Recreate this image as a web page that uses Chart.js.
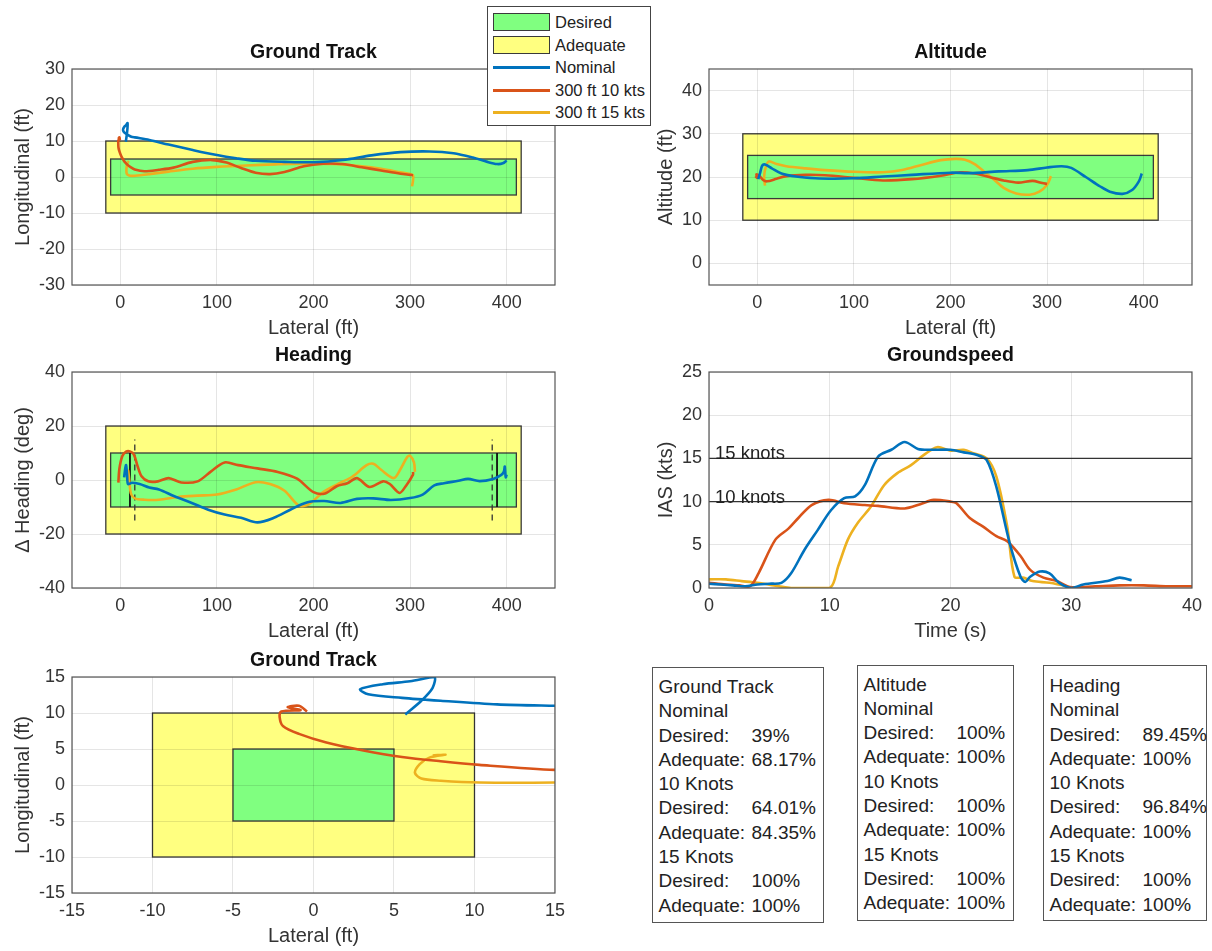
<!DOCTYPE html>
<html>
<head>
<meta charset="utf-8">
<script src="https://cdn.jsdelivr.net/npm/chart.js@4.4.1/dist/chart.umd.min.js"></script>
<style>
  body { margin: 0; background: #fff; width: 1212px; height: 951px; position: relative; overflow: hidden;
         font-family: "Liberation Sans", Arial, Helvetica, sans-serif; color: #222; }
  canvas { position: absolute; }
  .stat { position: absolute; border: 1.5px solid #555; background: #fff; box-sizing: border-box;
          font-size: 19px; padding-left: 5.5px; }
  .stat div { height: 24.3px; line-height: 24.3px; white-space: nowrap; }
  .stat span { display: inline-block; width: 93px; }
  #legend { position: absolute; left: 487px; top: 6px; width: 164px; height: 120px; border: 1px solid #444;
            background: #fff; box-sizing: border-box; font-size: 16.5px; z-index: 5; }
  #legend .sw { position: absolute; left: 5px; width: 57px; box-sizing: border-box; }
  #legend .txt { position: absolute; left: 67px; white-space: nowrap; }
</style>
</head>
<body>
<canvas id="track" width="565" height="303" style="left:0;top:39px"></canvas>
<canvas id="alt" width="565" height="303" style="left:637px;top:39px"></canvas>
<canvas id="head" width="565" height="303" style="left:0;top:342px"></canvas>
<canvas id="speed" width="572" height="303" style="left:637px;top:342px"></canvas>
<canvas id="zoom" width="572" height="303" style="left:0;top:647px"></canvas>
<div id="legend"></div>
<div class="stat" id="statTrack" style="left:652px;top:667px;width:172px;height:256px;padding-top:7px"></div>
<div class="stat" id="statAlt" style="left:857px;top:665px;width:157px;height:256px;padding-top:6.5px"></div>
<div class="stat" id="statHead" style="left:1043px;top:665px;width:164px;height:256px;padding-top:8px"></div>
<script>
// ---- data ----
const lateralTicks = [0, 100, 200, 300, 400];
const trackTicks = [-30, -20, -10, 0, 10, 20, 30];
const altTicks = [0, 10, 20, 30, 40];
const headTicks = [-40, -20, 0, 20, 40];
const timeTicks = [0, 10, 20, 30, 40];
const iasTicks = [0, 5, 10, 15, 20, 25];
const zoomTicks = [-15, -10, -5, 0, 5, 10, 15];

// tolerance boxes [xmin, xmax, ymin, ymax]
const trackAdequate = [-15, 415, -10, 10];
const trackDesired = [-10, 410, -5, 5];
const altAdequate = [-15, 415, 10, 30];
const altDesired = [-10, 410, 15, 25];
const headAdequate = [-15, 415, -20, 20];
const headDesired = [-10, 410, -10, 10];
const zoomAdequate = [-10, 10, -10, 10];
const zoomDesired = [-5, 5, -5, 5];

// ground track (lateral ft, longitudinal ft)
const trackNominal = [[5.7,9.8],[6.7,11.7],[7.4,13.5],[7.5,15],[6,14.4],[4.3,14],[2.9,13.3],[3.4,12.6],[5.5,12.1],[7.9,11.7],[11.4,11.2],[15,11],
  [30,10.3],[50,9],[75,7.5],[100,6.1],[120,5.2],[140,4.5],[170,4.2],[200,4.1],[230,4.7],[260,6],[290,6.9],[320,7.1],[345,6.6],
  [365,5.4],[380,4.2],[390,3.6],[396,3.8],[400,4.6]];
const trackTen = [[-0.4,10.2],[-0.9,11],[-1.6,10.8],[-0.8,10.4],[-2,10.2],[-2.1,9.4],[-1.9,8.2],[-0.9,7.1],[0.8,5.9],[3.1,4.8],[5.5,3.9],
  [7.9,3.3],[10.3,2.8],[15,2.1],[25,1.6],[40,2],[55,2.6],[75,4.2],[95,4.7],[110,4],[125,2.5],[140,1.2],[155,0.8],[170,1.4],
  [190,3],[210,3.7],[230,3.6],[250,2.7],[270,1.8],[290,0.9],[300,0.6],[303,0.5]];
const trackFifteen = [[7.4,4.1],[8.2,4.2],[7.2,3.8],[6.6,2.9],[6.3,1.7],[6.7,0.9],[7.9,0.6],[10.3,0.35],[15,0.35],[30,0.8],[50,1.5],
  [75,2.3],[100,2.8],[130,3.2],[160,3.5],[190,3.7],[220,3.6],[250,3],[270,2.3],[290,1.3],[300,0.8],[303,0.5],[303,-1],[302,-2.6]];

// altitude (lateral ft, altitude ft)
const altNominal = [[1,19.5],[3,21],[5,22.6],[8,22.9],[15,22],[25,20.8],[40,20.1],[60,19.7],[80,19.6],[100,19.7],[130,20.1],[160,20.5],
  [200,21],[220,20.9],[250,21.3],[280,21.6],[300,22.2],[315,22.5],[325,22.1],[340,20],[355,17.8],[365,16.6],[378,16.1],[388,17],
  [395,19],[398,20.8]];
const altTen = [[-2,20.2],[0,19.8],[-1,20.6],[2,20.3],[6,19.3],[10,19],[20,19.6],[30,20.2],[50,20.5],[70,20.4],[100,19.8],[130,19.2],
  [160,19.5],[190,20.3],[210,21.1],[225,20.8],[240,20],[255,19.2],[270,18.7],[285,19.1],[295,18.6],[300,18.4]];
const altFifteen = [[8,18],[7,20],[9,22.5],[12,23.6],[20,23],[30,22.5],[50,22],[70,21.6],[100,21.2],[130,21.1],[150,21.6],[170,22.8],
  [190,23.9],[205,24.2],[215,24],[225,23],[235,21.2],[245,19.4],[255,17.5],[268,16.2],[282,15.9],[292,16.6],[300,18.2],[304,20.2]];

// heading (lateral ft, delta heading deg)
const headNominal = [[4,1],[5,4],[6,5.5],[7,2],[8,-1.5],[12,-1],[20,-1.5],[30,-2.8],[40,-3.5],[56,-6],[74,-8.5],[91,-11],[108,-12.8],
  [125,-14],[142,-15.7],[159,-14],[176,-11],[193,-8.3],[211,-7.8],[228,-8.5],[245,-7],[262,-6.8],[280,-7.4],[300,-6.7],[313,-5.4],
  [325,-2],[335,-1.2],[350,-0.3],[360,0.4],[372,-0.4],[386,0.4],[394,1.8],[397,3],[398,5],[399,1],[400,2]];
const headTen = [[-2,-1],[-1,4],[2,8.8],[6,10.5],[10,10.6],[14,9.5],[18,5],[22,1.4],[29,-0.5],[39,-0.5],[50,0.7],[63,-0.9],[80,-0.5],
  [94,3.2],[108,6.5],[122,5.5],[142,4.3],[163,3],[183,0.5],[200,-4.5],[212,-5],[224,-2.3],[235,-1.2],[245,0.7],[258,-2.6],
  [272,-0.5],[279,-1.5],[289,-4.8],[296,-2],[303,2],[303,3]];
const headFifteen = [[7,0],[8,3.5],[9,1],[11,-5],[15,-6.8],[25,-7.3],[40,-7.3],[60,-6.3],[80,-5.8],[100,-5.4],[120,-3.5],[140,-0.8],
  [155,-1.5],[170,-4],[185,-9.5],[195,-9],[210,-4.5],[225,-1.5],[240,1.2],[255,5.5],[262,6],[270,3.8],[283,0.7],[290,4],[297,8.5],
  [300,9],[304,6.5],[305,3]];
const headSolidX = [10, 390];
const headSolidSpan = [-10, 10];
const headDashX = [15, 385];
const headDashSpan = [-15, 15];

// groundspeed (time s, IAS kts)
const speedNominal = [[0,0.5],[1,0.4],[2,0.3],[3,0.2],[4,0.4],[5,0.5],[6,0.6],[6.8,1.7],[7.9,4.4],[9,6.7],[10.1,9],[11.2,10.4],
  [12.1,10.6],[12.9,11.9],[14,15.2],[15.1,16],[16.2,16.9],[17.3,16.1],[18.4,16],[20,16],[21.1,15.7],[22.2,15.4],[23,14.8],
  [23.8,11.7],[24.9,5.2],[25.8,1.3],[26.2,0.7],[26.6,1.3],[27.4,1.9],[28.2,1.7],[29,0.6],[30,0],[31,0.4],[33,0.8],[34,1.2],[35,0.9]];
const speedTen = [[0,0.6],[1.4,0.4],[2.5,0.3],[3.4,0.2],[4.1,1.7],[5.5,5.6],[6.6,6.9],[7.4,8.1],[8.5,9.6],[9.9,10.2],[11.2,9.8],
  [12.9,9.6],[14,9.5],[16.2,9.2],[17.5,9.7],[18.6,10.2],[20,10],[20.5,9.8],[21.6,8.1],[22.7,7.1],[23.8,6],[24.7,5.4],[25.8,3.7],
  [26.6,2.1],[27.7,1.2],[28.8,0.8],[29.9,0.1],[32,0.2],[34,0.3],[36,0.3],[38,0.2],[40,0.2]];
const speedFifteen = [[0,1],[1.4,1],[2.7,0.8],[4,0.6],[5.8,0.2],[6.8,0],[10,0],[10.7,2.5],[11.5,5.6],[12.3,7.5],[13.4,9.4],
  [14.5,11.9],[15.6,13.3],[16.7,14.2],[17.8,15.4],[18.9,16.3],[20,15.9],[21.1,16],[21.9,15.6],[23,15],[23.8,12.9],[24.7,7.1],
  [25.3,1.3],[26,1.2],[26.8,0.8],[28.2,0.6],[29.6,0.2],[30,0]];
const speedRefLevels = [15, 10];
const speedRefLabels = ['15 knots', '10 knots'];

// score boxes
const statTrack = [['Ground Track',''],['Nominal',''],['Desired:','39%'],['Adequate:','68.17%'],['10 Knots',''],
  ['Desired:','64.01%'],['Adequate:','84.35%'],['15 Knots',''],['Desired:','100%'],['Adequate:','100%']];
const statAlt = [['Altitude',''],['Nominal',''],['Desired:','100%'],['Adequate:','100%'],['10 Knots',''],
  ['Desired:','100%'],['Adequate:','100%'],['15 Knots',''],['Desired:','100%'],['Adequate:','100%']];
const statHead = [['Heading',''],['Nominal',''],['Desired:','89.45%'],['Adequate:','100%'],['10 Knots',''],
  ['Desired:','96.84%'],['Adequate:','100%'],['15 Knots',''],['Desired:','100%'],['Adequate:','100%']];

const legendNames = ['Desired', 'Adequate', 'Nominal', '300 ft 10 kts', '300 ft 15 kts'];

// ---- styling ----
const FONT = '"Liberation Sans", Arial, Helvetica, sans-serif';
const BLUE = '#0072BD', ORANGE = '#D95319', GOLD = '#EDB120';
const GREEN_FILL = '#80FF80', YELLOW_FILL = '#FFFF80';
const EDGE = '#3a3a3a';

function pts(a) { return a.map(p => ({x: p[0], y: p[1]})); }

function curve(a, color) {
  return {data: pts(a), showLine: true, borderColor: color, backgroundColor: color,
          borderWidth: 2.6, pointRadius: 0, tension: 0.3};
}

function segment(x0, y0, x1, y1, color, width, dash) {
  return {data: [{x: x0, y: y0}, {x: x1, y: y1}], showLine: true, borderColor: color,
          borderWidth: width, borderDash: dash || [], pointRadius: 0, tension: 0};
}

const panelDecor = {
  id: 'panelDecor',
  beforeDraw(chart, args, opts) {
    const {ctx, scales: {x, y}} = chart;
    ctx.save();
    (opts.boxes || []).forEach(b => {
      const l = x.getPixelForValue(b.r[0]), r = x.getPixelForValue(b.r[1]);
      const t = y.getPixelForValue(b.r[3]), btm = y.getPixelForValue(b.r[2]);
      ctx.fillStyle = b.color;
      ctx.fillRect(l, t, r - l, btm - t);
      ctx.strokeStyle = EDGE;
      ctx.lineWidth = 1.3;
      ctx.strokeRect(l, t, r - l, btm - t);
    });
    ctx.restore();
  },
  afterDraw(chart, args, opts) {
    const {ctx, chartArea: a, scales: {x, y}} = chart;
    ctx.save();
    ctx.strokeStyle = '#555';
    ctx.lineWidth = 1.2;
    ctx.strokeRect(a.left, a.top, a.right - a.left, a.bottom - a.top);
    ctx.fillStyle = '#111';
    ctx.font = 'bold 19.5px ' + FONT;
    ctx.textAlign = 'center';
    ctx.textBaseline = 'middle';
    ctx.fillText(opts.title, (a.left + a.right) / 2, a.top - 16);
    (opts.labels || []).forEach(l => {
      ctx.font = '18.5px ' + FONT;
      ctx.fillStyle = '#222';
      ctx.textAlign = 'left';
      ctx.textBaseline = 'alphabetic';
      ctx.fillText(l.text, x.getPixelForValue(l.x), y.getPixelForValue(l.y) + 1);
    });
    ctx.restore();
  }
};

function axes(o) {
  const tickFont = {family: FONT, size: 18};
  const titleFont = {family: FONT, size: 20};
  return {
    x: {
      type: 'linear', min: o.xr[0], max: o.xr[1],
      afterBuildTicks: s => { s.ticks = o.xt.map(v => ({value: v})); },
      afterFit: s => { s.height = 57; },
      grid: {color: 'rgba(0,0,0,0.1)', drawTicks: false},
      border: {display: false},
      ticks: {color: '#333', font: tickFont, padding: 7, maxRotation: 0, autoSkip: false, callback: v => String(v)},
      title: {display: true, text: o.xl, color: '#333', font: titleFont, padding: {top: 0, bottom: 2}}
    },
    y: {
      type: 'linear', min: o.yr[0], max: o.yr[1],
      afterBuildTicks: s => { s.ticks = o.yt.map(v => ({value: v})); },
      afterFit: s => { s.width = 72; },
      grid: {color: 'rgba(0,0,0,0.1)', drawTicks: false},
      border: {display: false},
      ticks: {color: '#333', font: tickFont, padding: 7, autoSkip: false, callback: v => String(v)},
      title: {display: true, text: o.yl, color: '#333', font: titleFont, padding: {top: o.yPad, bottom: 0}}
    }
  };
}

function makePanel(id, o) {
  new Chart(document.getElementById(id), {
    type: 'scatter',
    data: {datasets: o.datasets},
    options: {
      responsive: false,
      animation: false,
      layout: {padding: {top: 30, right: 10, left: 0, bottom: 0}},
      plugins: {legend: {display: false}, tooltip: {enabled: false},
                panelDecor: {title: o.title, boxes: o.boxes, labels: o.labels}},
      scales: axes(o)
    },
    plugins: [panelDecor]
  });
}

makePanel('track', {
  title: 'Ground Track', xl: 'Lateral (ft)', yl: 'Longitudinal (ft)', yPad: 11,
  xr: [-50, 450], xt: lateralTicks, yr: [-30, 30], yt: trackTicks,
  boxes: [{r: trackAdequate, color: YELLOW_FILL}, {r: trackDesired, color: GREEN_FILL}],
  datasets: [curve(trackNominal, BLUE), curve(trackTen, ORANGE), curve(trackFifteen, GOLD)]
});

makePanel('alt', {
  title: 'Altitude', xl: 'Lateral (ft)', yl: 'Altitude (ft)', yPad: 17,
  xr: [-50, 450], xt: lateralTicks, yr: [-5, 45], yt: altTicks,
  boxes: [{r: altAdequate, color: YELLOW_FILL}, {r: altDesired, color: GREEN_FILL}],
  datasets: [curve(altNominal, BLUE), curve(altTen, ORANGE), curve(altFifteen, GOLD)]
});

const headGates = [];
headSolidX.forEach(v => headGates.push(segment(v, headSolidSpan[0], v, headSolidSpan[1], '#111', 1.8)));
headDashX.forEach(v => headGates.push(segment(v, headDashSpan[0], v, headDashSpan[1], '#333', 1.3, [6, 4])));

makePanel('head', {
  title: 'Heading', xl: 'Lateral (ft)', yl: '\u0394 Heading (deg)', yPad: 11,
  xr: [-50, 450], xt: lateralTicks, yr: [-40, 40], yt: headTicks,
  boxes: [{r: headAdequate, color: YELLOW_FILL}, {r: headDesired, color: GREEN_FILL}],
  datasets: [curve(headNominal, BLUE), curve(headTen, ORANGE), curve(headFifteen, GOLD)].concat(headGates)
});

makePanel('speed', {
  title: 'Groundspeed', xl: 'Time (s)', yl: 'IAS (kts)', yPad: 17,
  xr: [0, 40], xt: timeTicks, yr: [0, 25], yt: iasTicks,
  labels: speedRefLevels.map((v, i) => ({x: 0.5, y: v, text: speedRefLabels[i]})),
  datasets: speedRefLevels.map(v => segment(0, v, 40, v, '#333', 1.3))
    .concat([curve(speedNominal, BLUE), curve(speedTen, ORANGE), curve(speedFifteen, GOLD)])
});

makePanel('zoom', {
  title: 'Ground Track', xl: 'Lateral (ft)', yl: 'Longitudinal (ft)', yPad: 11,
  xr: [-15, 15], xt: zoomTicks, yr: [-15, 15], yt: zoomTicks,
  boxes: [{r: zoomAdequate, color: YELLOW_FILL}, {r: zoomDesired, color: GREEN_FILL}],
  datasets: [curve(trackNominal, BLUE), curve(trackTen, ORANGE), curve(trackFifteen, GOLD)]
});

// score boxes
function fillStat(id, rows) {
  const el = document.getElementById(id);
  rows.forEach(r => {
    const d = document.createElement('div');
    if (r[1]) {
      const s = document.createElement('span');
      s.textContent = r[0];
      d.appendChild(s);
      d.appendChild(document.createTextNode(r[1]));
    } else {
      d.textContent = r[0];
    }
    el.appendChild(d);
  });
}
fillStat('statTrack', statTrack);
fillStat('statAlt', statAlt);
fillStat('statHead', statHead);

// legend
const legendSwatches = [
  {fill: GREEN_FILL}, {fill: YELLOW_FILL}, {line: BLUE}, {line: ORANGE}, {line: GOLD}
];
const legend = document.getElementById('legend');
const rowCenters = [15, 37.5, 60, 83, 105];
legendNames.forEach((name, i) => {
  const sw = document.createElement('div');
  sw.className = 'sw';
  const c = legendSwatches[i];
  if (c.fill) {
    sw.style.top = (rowCenters[i] - 9) + 'px';
    sw.style.height = '18px';
    sw.style.background = c.fill;
    sw.style.border = '1.5px solid ' + EDGE;
  } else {
    sw.style.top = (rowCenters[i] - 1.5) + 'px';
    sw.style.height = '3px';
    sw.style.background = c.line;
  }
  legend.appendChild(sw);
  const t = document.createElement('div');
  t.className = 'txt';
  t.style.top = (rowCenters[i] - 11) + 'px';
  t.style.lineHeight = '22px';
  t.textContent = name;
  legend.appendChild(t);
});
</script>
</body>
</html>
